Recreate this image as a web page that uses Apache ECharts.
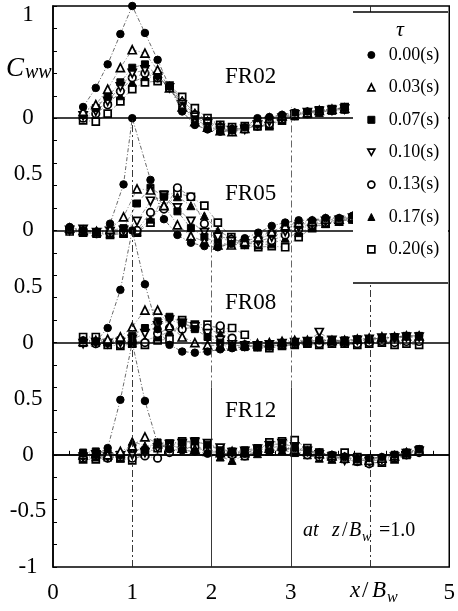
<!DOCTYPE html>
<html>
<head>
<meta charset="utf-8">
<script src="https://cdn.jsdelivr.net/npm/echarts@6/dist/echarts.min.js"></script>
<style>
html,body{margin:0;padding:0;background:#fff}
#chart{width:458px;height:611px}
</style>
</head>
<body>
<div id="chart"></div>
<script>
// Time lags (legend entries)
const tauNames = ['0.00(s)', '0.03(s)', '0.07(s)', '0.10(s)', '0.13(s)', '0.17(s)', '0.20(s)'];

// Panels stacked on one axis; each panel's zero sits at its offset
const panelNames = ['FR02', 'FR05', 'FR08', 'FR12'];
const panelOffsets = [3, 2, 1, 0];

// Tick labels of the stacked y axis, for values -1, -0.5, ..., 4
const yTickLabels = ['-1', '-0.5', '0', '0.5', '0', '0.5', '0', '0.5', '0', '', '1'];
// x tick labels; the slot at 4 is taken by the axis title
const xTickLabels = ['0', '1', '2', '3', '', '5'];

// Measurement stations x/Bw
const xStationsA = [0.38, 0.54, 0.69, 0.85, 1.00, 1.16, 1.32, 1.47, 1.63, 1.79, 1.95, 2.11, 2.26, 2.42,
  2.58, 2.73, 2.89, 3.05, 3.21, 3.36, 3.52, 3.68, 3.84, 3.99, 4.15, 4.31, 4.46, 4.62];
const xStationsFR02 = xStationsA.slice(0, 22);
const xStationsFR05 = [0.21, 0.38, 0.55, 0.72, 0.89, 1.06, 1.23, 1.40, 1.57, 1.74, 1.91, 2.08, 2.25, 2.42,
  2.59, 2.76, 2.93, 3.10, 3.27, 3.44, 3.61, 3.78];
const xStationsFR05Tau0 = [0.21, 0.38, 0.55, 0.72, 0.89, 1.00, 1.23, 1.40, 1.57, 1.74, 1.91, 2.08, 2.25, 2.42,
  2.59, 2.76, 2.93, 3.10, 3.27, 3.44, 3.61, 3.78];

// Cww per time lag, FR02
const cwwFR02 = [
  [0.10, 0.27, 0.48, 0.75, 1.00, 0.76, 0.52, 0.28, 0.06, -0.06, -0.10, -0.12, -0.11, -0.08, 0.00, 0.01, 0.03, 0.05, 0.06, 0.07, 0.08, 0.09],
  [0.06, 0.12, 0.26, 0.45, 0.61, 0.58, 0.43, 0.27, 0.10, -0.03, -0.08, -0.11, -0.12, -0.09, -0.03, 0.00, 0.02, 0.04, 0.05, 0.07, 0.08, 0.09],
  [0.03, 0.09, 0.19, 0.32, 0.45, 0.48, 0.38, 0.27, 0.11, -0.01, -0.07, -0.10, -0.12, -0.10, -0.05, -0.01, 0.01, 0.04, 0.05, 0.06, 0.08, 0.09],
  [0.02, 0.06, 0.15, 0.28, 0.40, 0.43, 0.37, 0.27, 0.12, 0.01, -0.05, -0.09, -0.11, -0.10, -0.06, -0.03, 0.00, 0.03, 0.05, 0.06, 0.07, 0.08],
  [0.00, 0.04, 0.12, 0.24, 0.36, 0.40, 0.36, 0.28, 0.14, 0.03, -0.03, -0.08, -0.10, -0.09, -0.07, -0.05, -0.01, 0.03, 0.04, 0.06, 0.07, 0.08],
  [0.05, 0.12, 0.17, 0.20, 0.32, 0.37, 0.36, 0.29, 0.16, 0.05, -0.02, -0.06, -0.09, -0.09, -0.07, -0.06, -0.02, 0.02, 0.04, 0.05, 0.07, 0.08],
  [-0.02, -0.03, 0.04, 0.15, 0.26, 0.32, 0.33, 0.29, 0.19, 0.09, 0.00, -0.06, -0.08, -0.07, -0.07, -0.07, -0.01, 0.04, 0.05, 0.07, 0.08, 0.10]
];

// Cww per time lag, FR05
const cwwFR05 = [
  [0.03, 0.00, -0.01, 0.06, 0.41, 1.00, 0.45, 0.10, -0.04, -0.11, -0.14, -0.15, -0.12, -0.07, -0.02, 0.04, 0.07, 0.09, 0.09, 0.11, 0.11, 0.13],
  [0.02, 0.00, -0.01, 0.01, 0.12, 0.37, 0.36, 0.22, 0.05, -0.05, -0.10, -0.13, -0.13, -0.10, -0.06, -0.01, 0.04, 0.07, 0.08, 0.10, 0.10, 0.12],
  [0.01, 0.00, -0.02, 0.00, 0.02, 0.24, 0.38, 0.30, 0.17, 0.02, -0.06, -0.11, -0.13, -0.12, -0.08, -0.03, 0.02, 0.05, 0.07, 0.09, 0.10, 0.11],
  [0.00, 0.01, -0.02, -0.01, 0.00, 0.08, 0.26, 0.31, 0.20, 0.08, -0.02, -0.06, -0.10, -0.12, -0.10, -0.06, -0.01, 0.03, 0.06, 0.08, 0.09, 0.11],
  [0.02, 0.00, -0.03, -0.02, -0.01, 0.00, 0.16, 0.19, 0.38, 0.30, 0.06, -0.05, -0.08, -0.11, -0.12, -0.09, -0.04, 0.01, 0.05, 0.07, 0.09, 0.10],
  [0.01, -0.01, -0.02, -0.03, -0.02, -0.01, 0.10, 0.23, 0.30, 0.22, 0.13, 0.00, -0.07, -0.11, -0.13, -0.12, -0.07, -0.02, 0.03, 0.06, 0.08, 0.10],
  [-0.01, -0.02, -0.03, -0.04, -0.03, -0.02, 0.07, 0.32, 0.33, 0.30, 0.22, 0.07, -0.06, -0.13, -0.15, -0.14, -0.15, -0.06, 0.02, 0.06, 0.08, 0.10]
];

// Cww per time lag, FR08
const cwwFR08 = [
  [0.02, 0.01, 0.13, 0.47, 1.00, 0.52, 0.12, -0.02, -0.08, -0.09, -0.08, -0.06, -0.05, -0.04, -0.02, -0.01, 0.00, 0.01, 0.01, 0.02, 0.02, 0.01, 0.02, 0.03, 0.04, 0.05, 0.06, 0.06],
  [0.01, 0.02, 0.03, 0.05, 0.14, 0.29, 0.29, 0.15, 0.05, 0.00, -0.02, -0.03, -0.03, -0.02, -0.01, 0.00, 0.01, 0.02, 0.02, 0.03, 0.02, 0.02, 0.03, 0.04, 0.05, 0.05, 0.06, 0.06],
  [0.00, 0.01, 0.00, 0.02, 0.06, 0.13, 0.19, 0.23, 0.18, 0.12, 0.05, 0.00, -0.03, -0.04, -0.03, -0.02, -0.01, 0.00, 0.01, 0.02, 0.02, 0.02, 0.03, 0.03, 0.04, 0.05, 0.06, 0.06],
  [-0.01, 0.00, -0.01, 0.00, 0.03, 0.08, 0.15, 0.20, 0.17, 0.14, 0.08, 0.02, -0.02, -0.03, -0.03, -0.02, -0.01, 0.00, 0.01, 0.09, 0.02, 0.01, 0.02, 0.03, 0.04, 0.04, 0.05, 0.05],
  [0.00, -0.01, 0.00, -0.02, 0.00, 0.00, 0.08, 0.13, 0.12, 0.14, 0.13, 0.15, 0.04, -0.02, -0.03, -0.03, -0.02, -0.01, 0.00, -0.01, 0.00, 0.00, -0.01, 0.00, 0.01, 0.00, 0.01, 0.01],
  [0.00, 0.00, 0.01, 0.02, 0.00, 0.02, 0.05, 0.10, 0.16, 0.14, 0.12, 0.08, 0.03, -0.02, -0.04, -0.03, -0.02, -0.01, 0.00, 0.01, 0.01, 0.01, 0.02, 0.02, 0.03, 0.04, 0.05, 0.05],
  [0.05, 0.05, -0.02, -0.03, -0.01, -0.02, 0.02, 0.03, 0.20, 0.16, 0.16, 0.12, 0.13, 0.07, -0.03, -0.05, -0.03, -0.02, -0.01, -0.02, -0.01, -0.01, -0.02, -0.01, 0.00, -0.02, -0.01, -0.02]
];

// Cww per time lag, FR12
const cwwFR12 = [
  [0.01, 0.00, 0.06, 0.49, 1.00, 0.48, 0.10, 0.05, 0.04, 0.03, 0.01, 0.00, 0.02, 0.01, 0.02, 0.03, 0.05, 0.06, 0.03, 0.02, 0.00, -0.02, -0.04, -0.03, -0.02, 0.00, 0.02, 0.05],
  [0.00, 0.01, 0.00, 0.03, 0.08, 0.16, 0.10, 0.08, 0.06, 0.05, 0.03, 0.02, 0.03, 0.02, 0.04, 0.06, 0.08, 0.05, 0.03, 0.01, -0.01, -0.03, -0.05, -0.05, -0.03, -0.01, 0.02, 0.04],
  [0.02, 0.03, 0.01, 0.00, 0.05, 0.04, 0.11, 0.10, 0.11, 0.12, 0.09, 0.04, 0.03, 0.04, 0.06, 0.09, 0.10, 0.07, 0.04, 0.02, -0.01, -0.04, -0.06, -0.04, -0.03, 0.00, 0.02, 0.05],
  [-0.02, 0.00, -0.02, -0.01, 0.00, 0.02, 0.06, 0.09, 0.10, 0.11, 0.10, 0.06, 0.02, 0.03, 0.05, 0.08, 0.10, 0.07, 0.03, 0.00, -0.02, -0.05, -0.05, -0.06, -0.04, -0.02, 0.01, 0.03],
  [-0.03, -0.01, -0.03, -0.02, -0.03, -0.01, -0.03, 0.02, 0.06, 0.07, 0.05, 0.02, 0.00, -0.01, 0.02, 0.04, 0.06, 0.04, 0.00, -0.02, -0.03, -0.02, -0.06, -0.08, -0.06, -0.03, 0.00, 0.02],
  [0.01, -0.02, 0.00, -0.03, 0.12, 0.08, 0.09, 0.08, 0.07, 0.06, 0.04, -0.02, -0.05, -0.01, 0.01, 0.03, 0.04, 0.02, 0.00, -0.03, -0.04, -0.01, -0.02, -0.04, -0.03, -0.01, 0.01, 0.03],
  [-0.04, -0.04, -0.02, -0.03, -0.05, 0.01, 0.06, 0.10, 0.12, 0.12, 0.09, 0.05, 0.01, 0.02, 0.04, 0.11, 0.12, 0.13, 0.06, 0.02, -0.01, 0.02, -0.02, -0.07, -0.07, -0.04, 0.00, 0.04]
];

const panelValues = [cwwFR02, cwwFR05, cwwFR08, cwwFR12];
function stationsFor(panel, tau) {
  if (panel === 0) return xStationsFR02;
  if (panel === 1) return tau === 0 ? xStationsFR05Tau0 : xStationsFR05;
  return xStationsA;
}

// Marker styles per time lag
const serif = '"Liberation Serif","Times New Roman",serif';
const invTri = 'path://M0,0 L10,0 L5,9 Z';
const markerShapes = ['circle', 'triangle', 'rect', invTri, 'circle', 'triangle', 'rect'];
const markerFilled = [true, false, true, false, false, true, false];
const markerSizes = [7.5, 8, 7, 8, 7.5, 8, 7];
function markerStyle(t) {
  return markerFilled[t]
    ? { color: '#000', borderColor: '#000', borderWidth: 1 }
    : { color: '#fff', borderColor: '#000', borderWidth: 1.7 };
}

const series = [];

// Zero lines of each panel and the vertical guides at x/Bw = 1..4
const guideLines = panelOffsets.map(o => ({ yAxis: o, lineStyle: { color: '#000', width: 1.5, type: 'solid' } }));
const dashDot = [7, 3, 2, 3];
const vGuides = [
  { x: 1, from: -1, to: 3, type: dashDot, color: '#222' },
  { x: 2, from: -1, to: 0.6, type: 'solid', color: '#222' },
  { x: 2, from: 0.6, to: 2.1, type: dashDot, color: '#555' },
  { x: 3, from: -1, to: 0.6, type: 'solid', color: '#222' },
  { x: 3, from: 0.6, to: 3.1, type: dashDot, color: '#555' },
  { x: 4, from: -1, to: 4, type: dashDot, color: '#222' }
];
vGuides.forEach(g => {
  guideLines.push([
    { coord: [g.x, g.from], lineStyle: { color: g.color, width: 0.9, type: g.type } },
    { coord: [g.x, g.to] }
  ]);
});
series.push({
  type: 'line', data: [[0, -1]], showSymbol: false, silent: true, z: 1,
  lineStyle: { opacity: 0 },
  markLine: { symbol: 'none', silent: true, animation: false, label: { show: false }, data: guideLines }
});

panelValues.forEach((vals, p) => {
  vals.forEach((row, t) => {
    const xs = stationsFor(p, t);
    const data = [];
    row.forEach((v, i) => { if (v !== null) data.push([xs[i], v + panelOffsets[p]]); });
    series.push({
      name: tauNames[t],
      type: 'line',
      data: data,
      symbol: markerShapes[t],
      symbolSize: markerSizes[t],
      showAllSymbol: true,
      itemStyle: markerStyle(t),
      lineStyle: { color: t === 0 ? '#444' : '#777', width: 0.8, type: [4, 2, 1, 2] },
      z: 3 + (6 - t) * 0.01,
      animation: false
    });
  });
});

const txt = (x, y, text, size, italic, extra) => Object.assign({
  type: 'text', x: x, y: y, z: 20,
  style: { text: text, font: (italic ? 'italic ' : '') + size + 'px ' + serif, fill: '#000', verticalAlign: 'middle', align: 'left' }
}, extra || {});

const panelLabelY = [77, 194, 303, 411];

const option = {
  animation: false,
  backgroundColor: '#fff',
  grid: { left: 53, right: 6, top: 6, bottom: 44, show: true, borderColor: '#000', borderWidth: 1.5, backgroundColor: 'transparent' },
  xAxis: {
    type: 'value', min: 0, max: 5, interval: 1,
    axisLine: { show: true, lineStyle: { color: '#000', width: 1.5 } },
    axisTick: { show: true, inside: true, length: 4, lineStyle: { color: '#000' } },
    minorTick: { show: true, splitNumber: 5, length: 4, lineStyle: { color: '#000' } },
    splitLine: { show: false },
    axisLabel: { color: '#000', fontFamily: serif, fontSize: 23, margin: 14,
      formatter: v => xTickLabels[Math.round(v)] }
  },
  yAxis: [
    {
      type: 'value', min: -1, max: 4, interval: 0.5,
      axisLine: { show: true, lineStyle: { color: '#000', width: 1.5 } },
      axisTick: { show: false },
      splitLine: { show: false },
      axisLabel: {
        color: '#000', fontFamily: serif, fontSize: 23, margin: 25, align: 'center',
        formatter: v => {
          const i = Math.round((v + 1) * 2);
          return i === 10 ? '{top|' + yTickLabels[i] + '}' : yTickLabels[i];
        },
        rich: { top: { fontFamily: serif, fontSize: 23, color: '#000', padding: [18, 0, 0, 0] } }
      }
    },
    {
      type: 'value', min: -1, max: 4, interval: 0.2, position: 'left',
      axisLine: { show: false },
      axisTick: { show: true, inside: true, length: 4, lineStyle: { color: '#000' } },
      axisLabel: { show: false },
      splitLine: { show: false }
    }
  ],
  legend: {
    orient: 'vertical', left: 362, top: 40, z: 30,
    itemWidth: 7, itemHeight: 7, itemGap: 12.4, selectedMode: false,
    textStyle: { fontFamily: serif, fontSize: 18, color: '#000', lineHeight: 20, padding: [0, 0, 0, 9] },
    data: tauNames.map((n, t) => ({ name: n, icon: markerShapes[t], itemStyle: markerStyle(t) }))
  },
  graphic: [
    // legend frame
    { type: 'rect', z: 25, shape: { x: 353, y: 12, width: 95, height: 271 }, style: { fill: '#fff' } },
    { type: 'line', z: 26, shape: { x1: 353, y1: 12, x2: 448, y2: 12 }, style: { stroke: '#000', lineWidth: 1.5 } },
    { type: 'line', z: 26, shape: { x1: 353, y1: 283, x2: 448, y2: 283 }, style: { stroke: '#000', lineWidth: 1.5 } },
    txt(396, 30, 'τ', 22, true, { z: 27 }),
    // y axis title
    txt(6, 69, 'C', 27, true),
    txt(25, 73, 'ww', 20, true),
    // panel names
    ...panelNames.map((n, i) => txt(225, panelLabelY[i], n, 23, false)),
    // x axis title
    txt(350, 591, 'x', 23, true),
    txt(362, 591, '/', 23, false),
    txt(372, 591, 'B', 23, true),
    txt(387, 598, 'w', 16, true),
    // elevation note
    txt(303, 531, 'at', 20, true),
    txt(332, 531, 'z', 20, true),
    txt(342, 531, '/', 20, false),
    txt(349, 531, 'B', 20, true),
    txt(362, 537, 'w', 14, true),
    txt(379, 531, '=1.0', 20, false)
  ],
  series: series
};

const chart = echarts.init(document.getElementById('chart'), null, { renderer: 'canvas' });
chart.setOption(option);
</script>
</body>
</html>
